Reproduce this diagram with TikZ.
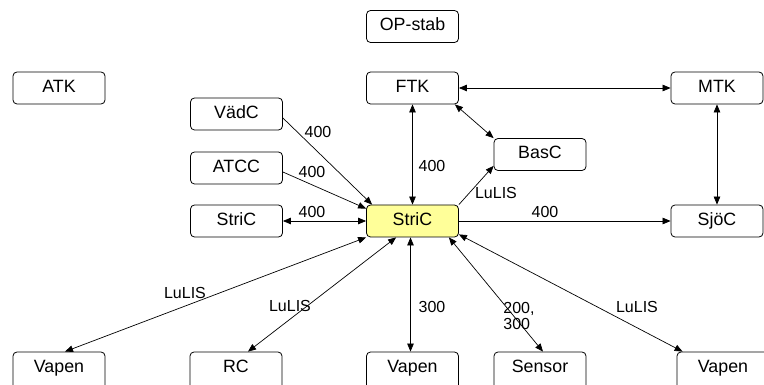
\documentclass[tikz,border=0pt]{standalone}
\usepackage{fontspec}
\setmainfont{Liberation Sans}
\usetikzlibrary{arrows.meta}
\definecolor{hiyel}{RGB}{255,255,153}
\tikzset{
  box/.style={draw, rounded corners=4pt, line width=0.8pt, minimum width=92pt, minimum height=32pt,
    inner sep=0pt, text height=12pt, text depth=3pt, font=\fontsize{17.8}{19}\selectfont},
  cutbox/.style={box, minimum height=38pt, text depth=9pt},
  lbl/.style={font=\fontsize{16}{16.5}\selectfont, inner sep=0pt},
  conn/.style={line width=0.7pt},
  tip/.tip={Triangle[length=8pt,width=6.5pt]},
  both/.style={conn, tip-tip},
  one/.style={conn, -tip}
}
\begin{document}
\begin{tikzpicture}[x=1pt,y=-1pt]
\useasboundingbox (0,0) rectangle (764,385);
% nodes
\node[box] (op) at (412.5,26.5) {OP-stab};
\node[box] (atk) at (59,88) {ATK};
\node[box] (ftk) at (412.5,88) {FTK};
\node[box] (mtk) at (717,88) {MTK};
\node[box] (vadc) at (236.5,114) {VädC};
\node[box] (basc) at (540,154.5) {BasC};
\node[box] (atcc) at (236.5,168) {ATCC};
\node[box] (stril) at (236.5,221) {StriC};
\node[box, fill=hiyel] (stric) at (412.5,221) {StriC};
\node[box] (sjoc) at (717,221) {SjöC};
\node[cutbox] (v1) at (59,371) {Vapen};
\node[cutbox] (rc) at (236,371) {RC};
\node[cutbox] (v2) at (412.5,371) {Vapen};
\node[cutbox] (sens) at (540,371) {Sensor};
\node[cutbox] (v3) at (723,371) {Vapen};
% connectors
\draw[both] (ftk.east) -- (mtk.west);
\draw[both] (mtk.south) -- (sjoc.north);
\draw[both] (ftk.south) -- (stric.north);
\draw[both] ([xshift=-4pt]ftk.south east) -- (basc.north west);
\draw[one] (stric.north east) -- ([yshift=5pt]basc.south west);
\draw[one] ([yshift=-4pt]vadc.east) -- ([xshift=6pt]stric.north west);
\draw[one] ([yshift=-4pt]atcc.east) -- ([yshift=-4pt]stric.north west);
\draw[both] (stril.east) -- (stric.west);
\draw[one] (stric.east) -- (sjoc.west);
\draw[both] (stric.south west) -- ([xshift=6pt]v1.north);
\draw[both] ([xshift=30pt]stric.south west) -- ([xshift=12pt]rc.north);
\draw[both] ([xshift=-2pt]stric.south) -- ([xshift=-2pt]v2.north);
\draw[both] ([xshift=-10pt]stric.south east) -- ([xshift=3pt]sens.north);
\draw[both] ([yshift=3pt]stric.south east) -- ([xshift=6pt]v3.north west);
% labels
\node[lbl] (l0) at (432,166) {400};
\node[lbl] (l1) at (318,132) {400};
\node[lbl] (l2) at (312,172) {400};
\node[lbl] (l3) at (312,212) {400};
\node[lbl] (l4) at (496,193) {LuLIS};
\node[lbl] (l5) at (545,212) {400};
\node[lbl] (l6) at (185,293) {LuLIS};
\node[lbl] (l7) at (290,306) {LuLIS};
\node[lbl] (l8) at (432,307) {300};
\node[lbl, align=left] (l9) at (519,316) {200,\\300};
\node[lbl] (l10) at (637,307) {LuLIS};
\end{tikzpicture}
\end{document}
